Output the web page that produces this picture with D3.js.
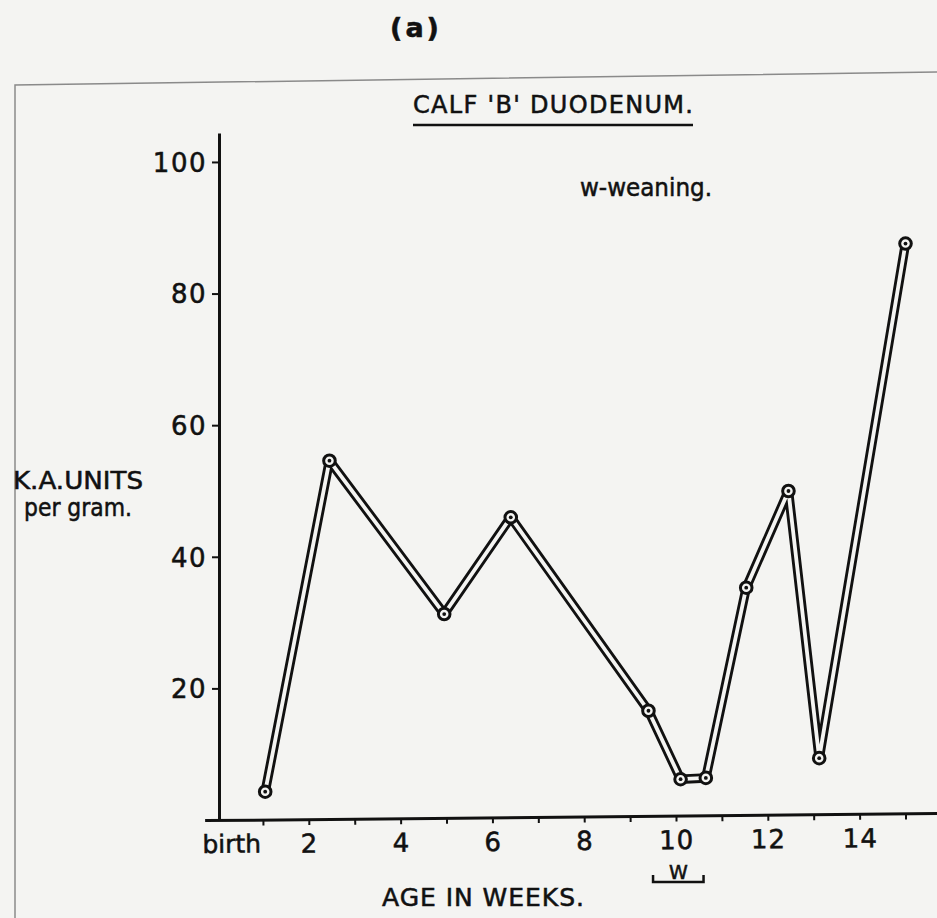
<!DOCTYPE html>
<html>
<head>
<meta charset="utf-8">
<script src="https://cdn.jsdelivr.net/npm/d3@7"></script>
<style>
  html, body { margin: 0; padding: 0; background: #f4f4f2; }
  svg { display: block; }
  text { font-family: "DejaVu Sans", sans-serif; fill: #111; stroke: #111; stroke-width: 0.55px; }
</style>
</head>
<body>
<svg id="chart" width="937" height="918"></svg>
<script>
// Calf 'B' duodenum: K.A. units per gram against age in weeks
const ageWeeks   = [1.05, 2.45, 4.95, 6.4, 9.4, 10.1, 10.65, 11.53, 12.45, 13.12, 15.0];
const kaUnits    = [4.3, 54.6, 31.3, 46.0, 16.6, 6.2, 6.4, 35.3, 50.0, 9.4, 87.6];
const yTicks     = [20, 40, 60, 80, 100];
const xTickWeeks = [1, 2, 3, 4, 5, 6, 7, 8, 9, 10, 11, 12, 13, 14, 15, 16];
const xTickText  = {2: "2", 4: "4", 6: "6", 8: "8", 10: "10", 12: "12", 14: "14"};
const weaning    = [9.5, 10.6];   // weaning period, weeks

const svg = d3.select("#chart");
const ink = "#111";
const paper = "#f4f4f2";

// paper edge
svg.append("path")
  .attr("d", "M15,918 L15,85 L937,72")
  .attr("fill", "none").attr("stroke", "#8a8a8a").attr("stroke-width", 1.5);

// scales
const pxPerWeek = 45.9, x0 = 217;
const xMin = -0.27, xMax = 16.2;
const x = d3.scaleLinear().domain([xMin, xMax])
  .range([x0 + xMin * pxPerWeek, x0 + xMax * pxPerWeek]);
const y = d3.scaleLinear().domain([0, 104.4]).range([820, 133]);

// y axis
const gy = svg.append("g")
  .attr("transform", `translate(${x(0) + 2},0)`)
  .call(d3.axisLeft(y).tickValues(yTicks).tickSize(7).tickSizeOuter(0).tickPadding(5));
gy.select(".domain").attr("stroke", ink).attr("stroke-width", 3);
gy.selectAll(".tick line").attr("stroke", ink).attr("stroke-width", 2);
gy.selectAll(".tick text").attr("font-size", 26).attr("dy", "0.36em")
  .attr("letter-spacing", 1.5)
  .attr("font-family", "DejaVu Sans").attr("fill", ink);

// x axis (drawn with a slight lift towards the right)
const gx = svg.append("g")
  .attr("transform", `translate(0,${y(0)}) rotate(-0.55, ${x(0)}, 0)`)
  .call(d3.axisBottom(x).tickValues(xTickWeeks).tickSize(6).tickSizeOuter(0).tickPadding(9)
    .tickFormat(d => xTickText[d] || ""));
gx.select(".domain").attr("stroke", ink).attr("stroke-width", 3);
gx.selectAll(".tick line").attr("stroke", ink).attr("stroke-width", 2);
gx.selectAll(".tick text").attr("font-size", 26).attr("font-family", "DejaVu Sans")
  .attr("letter-spacing", 1).attr("fill", ink);
gx.append("text")
  .attr("x", x(1) - 2).attr("y", 15).attr("dy", "0.71em")
  .attr("text-anchor", "end").attr("font-size", 25).attr("fill", ink)
  .attr("font-family", "DejaVu Sans")
  .text("birth");

// weaning bracket
const wb = svg.append("g");
wb.append("path")
  .attr("d", `M${x(weaning[0])},875 V882 H${x(weaning[1])} V875`)
  .attr("fill", "none").attr("stroke", ink).attr("stroke-width", 2.5);
wb.append("text")
  .attr("x", (x(weaning[0]) + x(weaning[1])) / 2).attr("y", 879)
  .attr("text-anchor", "middle").attr("font-size", 19)
  .text("W");

// data line: hollow double-ruled band
const pts = ageWeeks.map((w, i) => [x(w), y(kaUnits[i])]);
const line = d3.line();
svg.append("path").attr("d", line(pts))
  .attr("fill", "none").attr("stroke", ink).attr("stroke-width", 9.5)
  .attr("stroke-linejoin", "round").attr("stroke-linecap", "round");
svg.append("path").attr("d", line(pts))
  .attr("fill", "none").attr("stroke", paper).attr("stroke-width", 3.8)
  .attr("stroke-linejoin", "round").attr("stroke-linecap", "round");

// point markers: ringed circles with a centre dot
const mk = svg.append("g").selectAll("g").data(pts).join("g")
  .attr("transform", d => `translate(${d[0]},${d[1]})`);
mk.append("circle").attr("r", 5.8)
  .attr("fill", paper).attr("stroke", ink).attr("stroke-width", 3);
mk.append("circle").attr("r", 1.9).attr("fill", ink);

// titles and labels
svg.append("text")
  .attr("x", 416).attr("y", 37).attr("text-anchor", "middle")
  .attr("font-size", 27).attr("font-weight", "bold").attr("letter-spacing", 3)
  .text("(a)");

svg.append("text")
  .attr("x", 553).attr("y", 113).attr("text-anchor", "middle")
  .attr("font-size", 24).attr("textLength", 280).attr("lengthAdjust", "spacing")
  .text("CALF 'B' DUODENUM.");
svg.append("line")
  .attr("x1", 413).attr("x2", 693).attr("y1", 125).attr("y2", 125)
  .attr("stroke", ink).attr("stroke-width", 2.5);

svg.append("text")
  .attr("x", 646).attr("y", 196).attr("text-anchor", "middle")
  .attr("font-size", 25).attr("textLength", 132).attr("lengthAdjust", "spacingAndGlyphs")
  .text("w-weaning.");

svg.append("text")
  .attr("x", 78).attr("y", 489).attr("text-anchor", "middle")
  .attr("font-size", 25).attr("textLength", 130).attr("lengthAdjust", "spacingAndGlyphs")
  .text("K.A.UNITS");
svg.append("text")
  .attr("x", 78).attr("y", 516).attr("text-anchor", "middle")
  .attr("font-size", 25).attr("textLength", 108).attr("lengthAdjust", "spacingAndGlyphs")
  .text("per gram.");

svg.append("text")
  .attr("x", 483).attr("y", 906).attr("text-anchor", "middle")
  .attr("font-size", 25).attr("textLength", 202).attr("lengthAdjust", "spacing")
  .text("AGE IN WEEKS.");
</script>
</body>
</html>
